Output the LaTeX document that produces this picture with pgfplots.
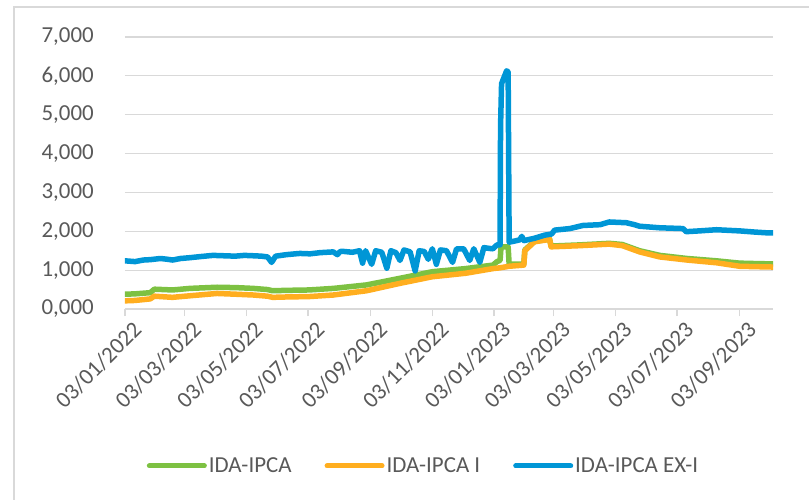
\documentclass[border=0pt]{standalone}
\usepackage{pgfplots}
\pgfplotsset{compat=1.18}
\usepackage{fontspec}
\setmainfont{Carlito}
\definecolor{gridc}{HTML}{D9D9D9}
\definecolor{txtc}{HTML}{595959}
\definecolor{cgreen}{HTML}{7DC142}
\definecolor{corange}{HTML}{FFAE1F}
\definecolor{cblue}{HTML}{0096D6}
\begin{document}
\begin{tikzpicture}
\useasboundingbox (-125bp,-191bp) rectangle (684bp,309bp);
\draw[gridc, line width=1.2bp] (-111bp,-220bp) rectangle (720bp,302bp);
\begin{axis}[
  scale only axis,
  width=648bp, height=272bp,
  xmin=0, xmax=641, ymin=0, ymax=7,
  axis lines*=left,
  x axis line style={draw=gridc, line width=1.2bp},
  y axis line style={draw=none},
  ytick={0,1,2,3,4,5,6,7},
  ymajorgrids,
  major grid style={gridc, line width=1.2bp},
  ytick style={draw=none},
  xtick={0,59,120,181,243,304,365,424,485,546,608},
  xticklabels={03/01/2022,03/03/2022,03/05/2022,03/07/2022,03/09/2022,03/11/2022,03/01/2023,03/03/2023,03/05/2023,03/07/2023,03/09/2023},
  xtick style={draw=gridc, line width=1.2bp},
  tick align=outside,
  major tick length=7bp,
  tick label style={font=\fontsize{23}{27}\selectfont, text=txtc},
  yticklabel style={inner sep=0pt, xshift=-24bp},
  xticklabel style={rotate=45, anchor=east, inner sep=0pt, yshift=-16bp, xshift=2bp},
  /pgf/number format/.cd, fixed, fixed zerofill, precision=3, use comma, assume math mode=true,
  /pgfplots/.cd,
  legend columns=3,
  legend style={draw=none, fill=none, font=\fontsize{23}{27}\selectfont, text=txtc,
    at={(0.4606,-0.577)}, anchor=center,
    /tikz/every even column/.append style={column sep=31bp}},
  legend image code/.code={\draw[#1, line width=5bp, line cap=round] (0bp,0bp) -- (55bp,0bp);},
  every axis plot/.append style={line width=5.5bp, line join=round, line cap=round, mark=none},
]
\addplot[cgreen] coordinates {
(0,0.38) (10,0.39) (25,0.42) (29,0.51) (47,0.49) (64,0.53) (91,0.56) (110,0.55)
(127,0.53) (141,0.50) (146,0.47) (160,0.48) (182,0.49) (206,0.53) (239,0.62)
(272,0.79) (304,0.96) (337,1.04) (364,1.13) (368,1.22) (371,1.25) (372,1.60)
(379,1.60) (380,1.15) (394.5,1.16) (395.5,1.52) (405,1.74) (420,1.80) (421.5,1.62)
(450,1.65) (479,1.69) (492,1.66) (509,1.50) (529,1.38) (556,1.30) (585,1.24)
(608,1.18) (623,1.17) (641,1.16)
};
\addlegendentry{IDA-IPCA}
\addplot[corange] coordinates {
(0,0.21) (10,0.22) (25,0.26) (29,0.33) (47,0.30) (64,0.34) (91,0.40) (110,0.38)
(127,0.36) (141,0.33) (146,0.30) (160,0.31) (182,0.32) (206,0.36) (239,0.47)
(272,0.66) (304,0.83) (337,0.92) (364,1.04) (371,1.06) (380,1.10) (394.5,1.13)
(395.5,1.50) (405,1.73) (420,1.79) (421.5,1.60) (450,1.63) (479,1.67) (492,1.63)
(509,1.47) (529,1.34) (556,1.26) (585,1.19) (608,1.10) (623,1.09) (641,1.08)
};
\addlegendentry{IDA-IPCA I}
\addplot[cblue] coordinates {
(0,1.24) (5,1.23) (10,1.22) (18,1.26) (25,1.27) (35,1.30) (42,1.28) (47,1.26)
(55,1.30) (64,1.32) (75,1.35) (87,1.38) (98,1.37) (109,1.36) (118,1.38) (127,1.37)
(135,1.36) (141,1.34) (145,1.20) (149,1.36) (160,1.40) (173,1.43) (183,1.42)
(193,1.45) (206,1.47) (210,1.40) (213,1.48) (217,1.48) (225,1.46) (232,1.50)
(235,1.18) (238,1.50) (244,1.15) (248,1.50) (254,1.46) (259,1.05) (263,1.50)
(268,1.45) (272,1.25) (276,1.52) (282,1.47) (287,0.98) (291,1.50) (296,1.48)
(300,1.28) (304,1.55) (308,1.15) (312,1.52) (318,1.50) (324,1.20) (328,1.55)
(335,1.55) (341,1.25) (345,1.55) (351,1.20) (355,1.58) (360,1.56) (364,1.55)
(368,1.65) (371,1.65) (371.5,4.70) (372.5,5.80) (377.5,6.13) (379,6.10) (380,1.72)
(385.6,1.75) (390.5,1.78) (392.5,1.87) (394.5,1.76) (405,1.82) (415,1.90) (422,1.93)
(425,2.03) (440,2.07) (453,2.15) (470,2.17) (479,2.24) (496,2.22) (504,2.17)
(509,2.13) (529,2.09) (552,2.07) (555,1.99) (568,2.01) (585,2.04) (608,2.01)
(623,1.98) (635,1.96) (641,1.96)
};
\addlegendentry{IDA-IPCA EX-I}
\end{axis}
\end{tikzpicture}
\end{document}
